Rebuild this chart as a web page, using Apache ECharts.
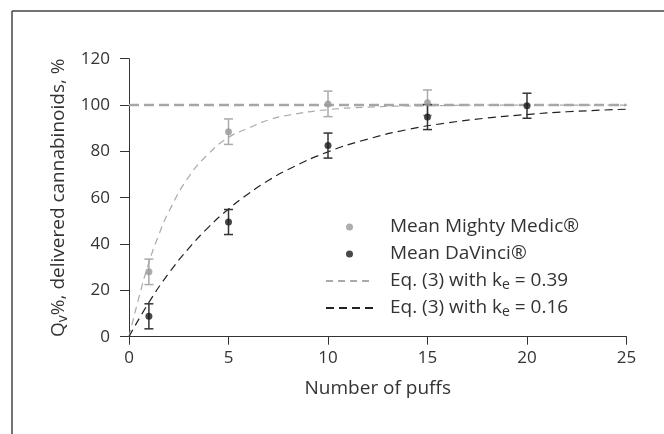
<!DOCTYPE html>
<html>
<head>
<meta charset="utf-8">
<script src="https://cdn.jsdelivr.net/npm/echarts@6/dist/echarts.min.js"></script>
<style>
html,body{margin:0;padding:0;background:#fff;}
#chart{width:664px;height:434px;}
</style>
</head>
<body>
<div id="chart"></div>
<script>
// ---- data ----
var mightyX = [1, 5, 10, 15];
var mightyMean = [28, 88.5, 100.5, 101];
var mightyErr = [5.5, 5.5, 5.5, 5.5];

var davinciX = [1, 5, 10, 15, 20];
var davinciMean = [8.8, 49.5, 82.5, 94.8, 99.7];
var davinciErr = [5.4, 5.4, 5.4, 5.4, 5.4];

var fitFastX = [0, 0.5, 1, 1.5, 2, 3, 4, 5, 6, 7, 8, 10, 12, 15, 20, 25];
var fitFastY = [0, 17, 32, 44, 54, 69, 79, 86, 90, 93.5, 95.6, 98, 99.1, 99.7, 100, 100];

var fitSlowX = [0, 1, 2, 3, 4, 5, 6, 7, 8, 10, 12, 14, 16, 18, 20, 22, 25];
var fitSlowY = [0, 14.8, 27.4, 38.1, 47.3, 55.1, 61.7, 67.4, 72.2, 79.8, 85.3, 89.4, 92.3, 94.4, 95.9, 97.1, 98.2];

var refX = [0, 25];
var refY = [100, 100];

var xTicks = [0, 5, 10, 15, 20, 25];
var yTicks = [0, 20, 40, 60, 80, 100, 120];

var legendNames = ['Mean Mighty Medic®', 'Mean DaVinci®', 'Eq. (3) with k_e = 0.39', 'Eq. (3) with k_e = 0.16'];

function pairs(xs, ys) { return xs.map(function (x, i) { return [x, ys[i]]; }); }
function errData(xs, m, e) { return xs.map(function (x, i) { return [x, m[i] - e[i], m[i] + e[i]]; }); }

function errRender(color) {
  return function (params, api) {
    var x = api.value(0);
    var lo = api.coord([x, api.value(1)]);
    var hi = api.coord([x, api.value(2)]);
    var hw = 4.5;
    var st = { stroke: color, lineWidth: 1.5 };
    return {
      type: 'group',
      children: [
        { type: 'line', shape: { x1: lo[0], y1: lo[1], x2: hi[0], y2: hi[1] }, style: st },
        { type: 'line', shape: { x1: lo[0] - hw, y1: lo[1], x2: lo[0] + hw, y2: lo[1] }, style: st },
        { type: 'line', shape: { x1: hi[0] - hw, y1: hi[1], x2: hi[0] + hw, y2: hi[1] }, style: st }
      ]
    };
  };
}

var FONT = '"Open Sans", "Noto Sans", sans-serif';
var TXT = '#333333';
var chart = echarts.init(document.getElementById('chart'), null, { renderer: 'canvas' });

var subStyle = { fontFamily: FONT, fontSize: 14, color: TXT, verticalAlign: 'bottom', padding: [9, 0, 0, 0] };
var noDot = { color: 'rgba(0,0,0,0)', borderWidth: 0 };

var option = {
  animation: false,
  backgroundColor: '#fff',
  textStyle: { fontFamily: FONT },
  graphic: [
    { type: 'line', shape: { x1: 12, y1: 11, x2: 664, y2: 11 }, style: { stroke: '#444', lineWidth: 1.5 } },
    { type: 'line', shape: { x1: 12, y1: 11, x2: 12, y2: 434 }, style: { stroke: '#444', lineWidth: 1.5 } }
  ],
  grid: { left: 129, right: 37.5, top: 58.7, bottom: 97.3, containLabel: false },
  legend: {
    orient: 'vertical',
    left: 320,
    top: 211,
    itemWidth: 47,
    itemHeight: 7,
    itemGap: 5,
    selectedMode: false,
    data: [
      { name: legendNames[0], icon: 'circle' },
      { name: legendNames[1], icon: 'circle' },
      { name: legendNames[2], itemStyle: noDot },
      { name: legendNames[3], itemStyle: noDot }
    ],
    formatter: function (n) { return n.replace('k_e', 'k{sub|e}'); },
    textStyle: {
      fontFamily: FONT, fontSize: 19, color: TXT, lineHeight: 22, padding: [0, 0, 0, 12],
      rich: { sub: subStyle }
    }
  },
  xAxis: {
    type: 'value', min: 0, max: 25, interval: 5,
    name: 'Number of puffs', nameLocation: 'middle', nameGap: 42,
    nameTextStyle: { fontFamily: FONT, fontSize: 19, color: TXT },
    axisLine: { show: true, onZero: false, lineStyle: { color: '#333', width: 1 } },
    axisTick: { show: true, inside: false, length: 8, lineStyle: { color: '#333' } },
    axisLabel: { fontFamily: FONT, fontSize: 17, color: TXT, margin: 13,
      formatter: function (v) { return xTicks.indexOf(v) >= 0 ? String(v) : ''; } },
    splitLine: { show: false }
  },
  yAxis: {
    type: 'value', min: 0, max: 120, interval: 20,
    name: 'Q{sub|v}%, delivered cannabinoids, %', nameLocation: 'middle', nameGap: 57,
    nameTextStyle: { fontFamily: FONT, fontSize: 19, color: TXT, rich: { sub: subStyle } },
    axisLine: { show: true, onZero: false, lineStyle: { color: '#333', width: 1 } },
    axisTick: { show: true, inside: false, length: 9, lineStyle: { color: '#333' } },
    axisLabel: { fontFamily: FONT, fontSize: 17, color: TXT, margin: 19,
      formatter: function (v) { return yTicks.indexOf(v) >= 0 ? String(v) : ''; } },
    splitLine: { show: false }
  },
  series: [
    {
      name: 'ref100', type: 'line', data: pairs(refX, refY), symbol: 'none', silent: true, z: 1,
      lineStyle: { color: '#a6a6a6', width: 2.5, type: [10, 5] }
    },
    {
      name: legendNames[2], type: 'line', data: pairs(fitFastX, fitFastY), symbol: 'none', smooth: true, z: 2,
      color: '#aaaaaa',
      lineStyle: { color: '#aaaaaa', width: 1.2, type: [7, 5] }
    },
    {
      name: legendNames[3], type: 'line', data: pairs(fitSlowX, fitSlowY), symbol: 'none', smooth: true, z: 2,
      color: '#222222',
      lineStyle: { color: '#222222', width: 1.2, type: [8, 5] }
    },
    {
      name: 'errMighty', type: 'custom', data: errData(mightyX, mightyMean, mightyErr), z: 3,
      renderItem: errRender('#aaaaaa'), silent: true
    },
    {
      name: 'errDavinci', type: 'custom', data: errData(davinciX, davinciMean, davinciErr), z: 3,
      renderItem: errRender('#333333'), silent: true
    },
    {
      name: legendNames[0], type: 'scatter', data: pairs(mightyX, mightyMean), symbol: 'circle', symbolSize: 7, z: 4,
      itemStyle: { color: '#999999' }
    },
    {
      name: legendNames[1], type: 'scatter', data: pairs(davinciX, davinciMean), symbol: 'circle', symbolSize: 7, z: 4,
      itemStyle: { color: '#1a1a1a' }
    }
  ]
};
chart.setOption(option);
</script>
</body>
</html>
